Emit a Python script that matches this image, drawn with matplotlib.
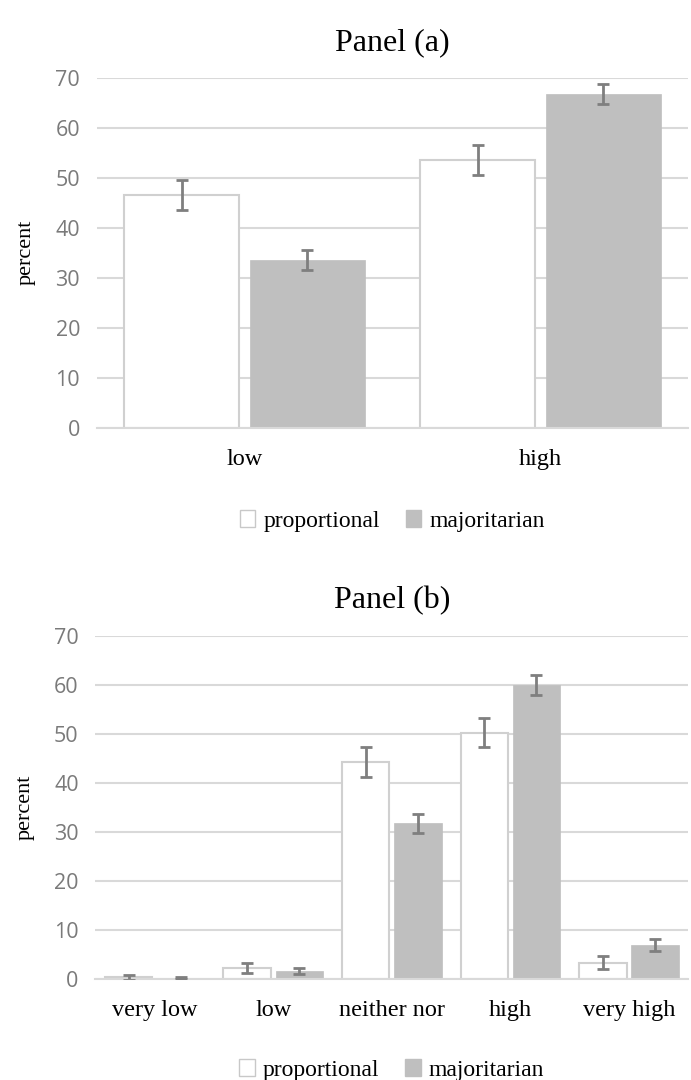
import numpy as np
import matplotlib.pyplot as plt
from matplotlib.patches import Patch

# Panel (a) data
cats_a = ['low', 'high']
prop_a = [46.5, 53.5]
prop_a_err = [3.0, 3.0]
maj_a = [33.5, 66.8]
maj_a_err = [2.0, 2.0]

# Panel (b) data
cats_b = ['very low', 'low', 'neither nor', 'high', 'very high']
prop_b = [0.4, 2.2, 44.2, 50.2, 3.3]
prop_b_err = [0.5, 1.0, 3.0, 3.0, 1.3]
maj_b = [0.3, 1.7, 31.7, 59.9, 7.0]
maj_b_err = [0.2, 0.6, 2.0, 2.0, 1.2]

serif = 'Liberation Serif'
tick_font = 'Open Sans'
grey_bar = '#bfbfbf'
edge = '#d0d0d0'
err_col = '#7f7f7f'
grid_col = '#d9d9d9'

fig = plt.figure(figsize=(6.91, 10.8), dpi=100)


def draw_panel(ax, cats, prop, prop_err, maj, maj_err, width, gap, title, xpad, leg_y):
    x = np.arange(len(cats))
    off = (width + gap) / 2
    ax.bar(x - off, prop, width, color='white', edgecolor=edge, linewidth=1.5, zorder=2)
    ax.bar(x + off, maj, width, color=grey_bar, edgecolor=grey_bar, linewidth=0.5, zorder=2)
    ax.errorbar(x - off, prop, yerr=prop_err, fmt='none', ecolor=err_col,
                elinewidth=2, capsize=4.5, capthick=2, zorder=3)
    ax.errorbar(x + off, maj, yerr=maj_err, fmt='none', ecolor=err_col,
                elinewidth=2, capsize=4.5, capthick=2, zorder=3)
    ax.set_xlim(-0.5, len(cats) - 0.5)
    ax.set_ylim(0, 70)
    ax.set_yticks(range(0, 71, 10))
    ax.yaxis.grid(True, color=grid_col, linewidth=1.5, zorder=0)
    ax.set_axisbelow(True)
    for s in ['top', 'right', 'left']:
        ax.spines[s].set_visible(False)
    ax.spines['bottom'].set_color(grid_col)
    ax.spines['bottom'].set_linewidth(1.5)
    ax.tick_params(axis='both', length=0)
    ax.tick_params(axis='y', labelsize=15.5, labelcolor='#7a7a7a', pad=12)
    for lab in ax.get_yticklabels():
        lab.set_fontfamily(tick_font)
    ax.set_xticks(x)
    ax.set_xticklabels(cats, fontfamily=serif, fontsize=17.5)
    ax.tick_params(axis='x', pad=xpad)
    ax.set_ylabel('percent', fontfamily=serif, fontsize=16, labelpad=14)
    ax.set_title(title, fontfamily=serif, fontsize=23, pad=20)
    handles = [Patch(facecolor='white', edgecolor='#c8c8c8', label='proportional'),
               Patch(facecolor=grey_bar, edgecolor=grey_bar, label='majoritarian')]
    ax.legend(handles=handles, loc='upper center', bbox_to_anchor=(0.5, leg_y),
              ncol=2, frameon=False, prop={'family': serif, 'size': 17},
              handlelength=0.65, handleheight=0.75, handletextpad=0.35, columnspacing=1.1)


ax1 = fig.add_axes([0.140, 0.604, 0.856, 0.324])
draw_panel(ax1, cats_a, prop_a, prop_a_err, maj_a, maj_a_err, 0.39, 0.035, 'Panel (a)', 15, -0.175)

ax2 = fig.add_axes([0.138, 0.0935, 0.858, 0.318])
draw_panel(ax2, cats_b, prop_b, prop_b_err, maj_b, maj_b_err, 0.40, 0.04, 'Panel (b)', 15, -0.17)

fig.savefig('out.png', dpi=100)
